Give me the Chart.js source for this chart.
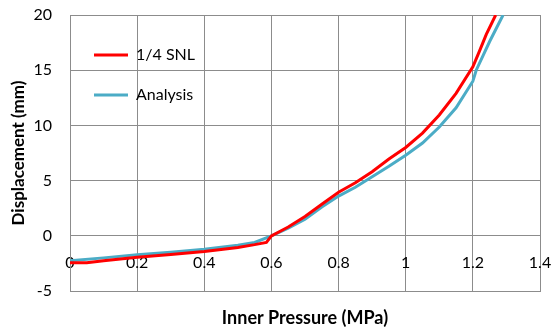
<!DOCTYPE html>
<html>
<head>
<meta charset="utf-8">
<script src="https://cdn.jsdelivr.net/npm/chart.js@4.4.1/dist/chart.umd.min.js"></script>
<style>
  html, body { margin: 0; padding: 0; background: #ffffff; }
  #wrap { width: 552px; height: 331px; }
</style>
</head>
<body>
<div id="wrap"><canvas id="chart"></canvas></div>
<script>
// 1/4 SNL test curve (pressure MPa, displacement mm)
const snlX = [0, 0.05, 0.1, 0.2, 0.3, 0.4, 0.5, 0.55, 0.585, 0.6, 0.65, 0.7, 0.75, 0.8, 0.85, 0.9, 0.95, 1.0, 1.05, 1.1, 1.15, 1.2, 1.22, 1.24, 1.268];
const snlY = [-2.45, -2.45, -2.25, -1.95, -1.7, -1.42, -1.05, -0.8, -0.6, 0, 0.8, 1.75, 2.85, 3.95, 4.8, 5.8, 6.95, 8.0, 9.3, 10.95, 12.9, 15.3, 16.75, 18.25, 20];

// Analysis curve
const anaX = [0, 0.1, 0.2, 0.3, 0.4, 0.5, 0.55, 0.6, 0.65, 0.7, 0.75, 0.8, 0.85, 0.9, 0.95, 1.0, 1.05, 1.1, 1.15, 1.2, 1.21, 1.23, 1.25, 1.27, 1.29];
const anaY = [-2.25, -2.0, -1.72, -1.48, -1.22, -0.85, -0.6, 0, 0.7, 1.5, 2.6, 3.6, 4.4, 5.35, 6.3, 7.3, 8.4, 9.85, 11.6, 14.0, 15.0, 16.3, 17.6, 18.8, 20];

const xTicks = [0, 0.2, 0.4, 0.6, 0.8, 1, 1.2, 1.4];
const yTicks = [-5, 0, 5, 10, 15, 20];

const gridColor = "#8c8c8c";
const fontName = "Lato, 'Open Sans', sans-serif";

function toPoints(xs, ys) {
    return xs.map((x, i) => ({ x: x, y: ys[i] }));
}

new Chart("chart", {
    type: "line",
    data: {
        datasets: [
            {
                label: "1/4 SNL",
                data: toPoints(snlX, snlY),
                borderColor: "#ff0000",
                backgroundColor: "#ff0000",
                borderWidth: 3,
                pointRadius: 0,
                tension: 0
            },
            {
                label: "Analysis",
                data: toPoints(anaX, anaY),
                borderColor: "#4bacc6",
                backgroundColor: "#4bacc6",
                borderWidth: 3,
                pointRadius: 0,
                tension: 0
            }
        ]
    },
    options: {
        responsive: true,
        maintainAspectRatio: false,
        animation: false,
        layout: { padding: { top: 15, right: 12, left: 0, bottom: 0 } },
        plugins: {
            tooltip: { enabled: false },
            legend: {
                position: "chartArea",
                align: "start",
                title: {
                    display: true,
                    text: " ",
                    font: { size: 10 },
                    padding: { top: 11, bottom: 0 }
                },
                labels: {
                    usePointStyle: true,
                    pointStyle: "line",
                    pointStyleWidth: 34,
                    padding: 24,
                    color: "#000000",
                    font: { family: fontName, size: 16 }
                }
            }
        },
        scales: {
            x: {
                type: "linear",
                min: 0,
                max: 1.4,
                afterBuildTicks: (axis) => { axis.ticks = xTicks.map(v => ({ value: v })); },
                afterFit: (axis) => {
                    axis.height = 40;
                    axis.paddingLeft = 0;
                    axis.paddingRight = 0;
                },
                grid: { color: gridColor, drawTicks: false },
                border: { color: gridColor },
                ticks: {
                    mirror: true,
                    padding: 19,
                    color: "#000000",
                    font: { family: fontName, size: 16 },
                    callback: (v) => String(v)
                },
                title: {
                    display: true,
                    text: "Inner Pressure (MPa)",
                    color: "#000000",
                    font: { family: fontName, size: 18, weight: "bold" },
                    padding: { top: 0, bottom: 2 }
                }
            },
            y: {
                min: -5,
                max: 20,
                afterBuildTicks: (axis) => { axis.ticks = yTicks.map(v => ({ value: v })); },
                afterFit: (axis) => {
                    axis.width = 70;
                    axis.paddingTop = 0;
                    axis.paddingBottom = 0;
                },
                grid: { color: gridColor, drawTicks: false },
                border: { color: gridColor },
                ticks: {
                    padding: 18,
                    color: "#000000",
                    font: { family: fontName, size: 16 }
                },
                title: {
                    display: true,
                    text: "Displacement (mm)",
                    color: "#000000",
                    font: { family: fontName, size: 17, weight: "bold" },
                    padding: { top: 8, bottom: 0 }
                }
            }
        }
    }
});
</script>
</body>
</html>
